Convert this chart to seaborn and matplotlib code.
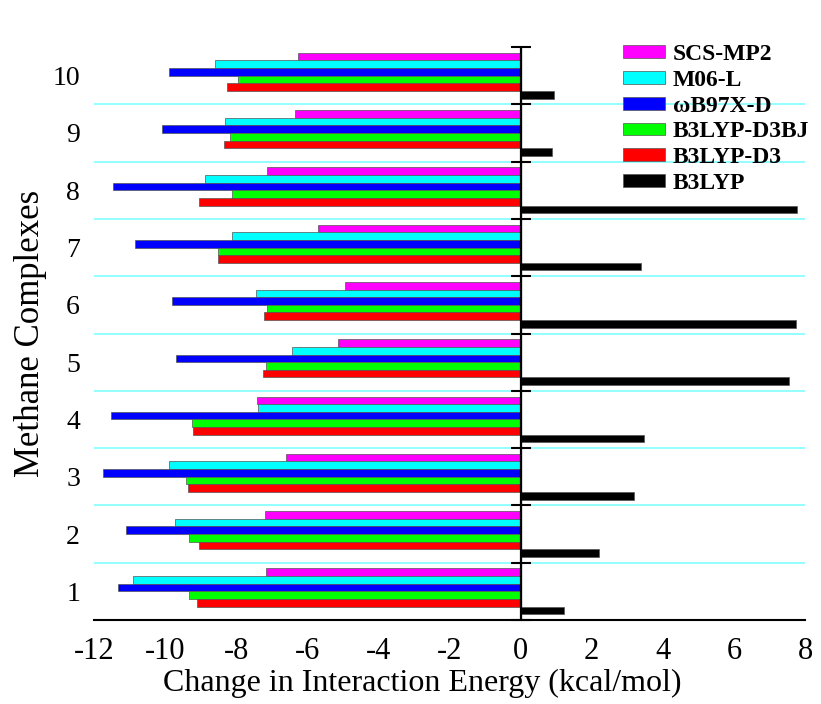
import numpy as np
import pandas as pd
import matplotlib
matplotlib.use("Agg")
import matplotlib.pyplot as plt
import seaborn as sns

complexes = ['1', '2', '3', '4', '5', '6', '7', '8', '9', '10']
methods = ['SCS-MP2', 'M06-L', 'ωB97X-D', 'B3LYP-D3BJ', 'B3LYP-D3', 'B3LYP']
scs_mp2 = [-7.17, -7.20, -6.61, -7.42, -5.14, -4.93, -5.71, -7.13, -6.35, -6.27]
m06l = [-10.89, -9.71, -9.89, -7.40, -6.43, -7.44, -8.13, -8.87, -8.31, -8.59]
wb97xd = [-11.33, -11.11, -11.76, -11.52, -9.69, -9.80, -10.85, -11.46, -10.10, -9.90]
b3lyp_d3bj = [-9.33, -9.33, -9.41, -9.25, -7.17, -7.13, -8.51, -8.13, -8.18, -7.96]
b3lyp_d3 = [-9.09, -9.05, -9.35, -9.22, -7.25, -7.23, -8.51, -9.05, -8.35, -8.26]
b3lyp = [1.22, 2.20, 3.18, 3.46, 7.56, 7.75, 3.38, 7.77, 0.87, 0.93]
colors = ['#ff00ff', '#00ffff', '#0000ff', '#00ff00', '#ff0000', '#000000']
xticks = [-12, -10, -8, -6, -4, -2, 0, 2, 4, 6, 8]

series = [scs_mp2, m06l, wb97xd, b3lyp_d3bj, b3lyp_d3, b3lyp]
rows = []
for m, vals in zip(methods, series):
    for c, v in zip(complexes, vals):
        rows.append({'Complex': c, 'Method': m, 'Energy': v})
df = pd.DataFrame(rows)

sns.set_style('white')
plt.rcParams['font.family'] = ['Liberation Serif', 'DejaVu Serif']
plt.rcParams['text.color'] = 'black'
plt.rcParams['axes.labelcolor'] = 'black'
plt.rcParams['xtick.color'] = 'black'
plt.rcParams['ytick.color'] = 'black'

fig = plt.figure(figsize=(8.21, 7.04), dpi=100)
ax = fig.add_axes([94/821, 1 - 620/704, 711/821, 573/704])

order = complexes[::-1]
sns.barplot(data=df, x='Energy', y='Complex', hue='Method', order=order,
            hue_order=methods, palette=colors, saturation=1, orient='h', width=0.8,
            edgecolor='#555555', linewidth=0.5, errorbar=None, ax=ax, zorder=2)

ax.set_xlim(-12, 8)
ax.set_ylim(len(order) - 0.5, -0.5)
ax.set_xticks(xticks)
ax.set_xticklabels([str(t) for t in xticks], fontsize=22)
ax.tick_params(axis='x', direction='out', length=9, width=1.3, pad=3, color='black',
               labelcolor='black')
ax.tick_params(axis='y', length=0, pad=10, labelsize=20, labelcolor='black')

for s in ['top', 'right', 'left']:
    ax.spines[s].set_visible(False)
ax.spines['bottom'].set_linewidth(1.5)
ax.spines['bottom'].set_color('black')

# group separators
bounds = np.arange(0.5, len(order) - 0.5, 1.0)
for b in bounds:
    ax.axhline(b, color='#80ffff', lw=1.2, zorder=0)

# zero axis with ticks at group boundaries
ax.axvline(0, color='black', lw=1.6, zorder=5)
x0 = (0 - (-12)) / (8 - (-12))
sec = ax.secondary_yaxis(x0)
sec.set_yticks(np.arange(-0.5, len(order), 1.0))
sec.set_yticklabels([])
sec.tick_params(direction='inout', length=14, width=1.5, color='black')
sec.spines['left'].set_linewidth(1.5)
sec.spines['left'].set_color('black')

ax.set_xlabel('Change in Interaction Energy (kcal/mol)', fontsize=23, color='black')
ax.xaxis.set_label_coords(0.461, -0.085)
ax.set_ylabel('Methane Complexes', fontsize=25, labelpad=4, color='black')

handles, labels = ax.get_legend_handles_labels()
if ax.get_legend() is not None:
    ax.get_legend().remove()
leg = ax.legend(handles, labels, loc='upper left', bbox_to_anchor=(0.744, 1.005),
                frameon=False, borderpad=0, borderaxespad=0, handlelength=1.8,
                handleheight=0.45, handletextpad=0.3, labelspacing=0.2,
                prop={'family': ['Liberation Serif', 'DejaVu Serif'], 'weight': 'bold', 'size': 17})
for t in leg.get_texts():
    t.set_color('black')

fig.savefig('out.png', dpi=100)
